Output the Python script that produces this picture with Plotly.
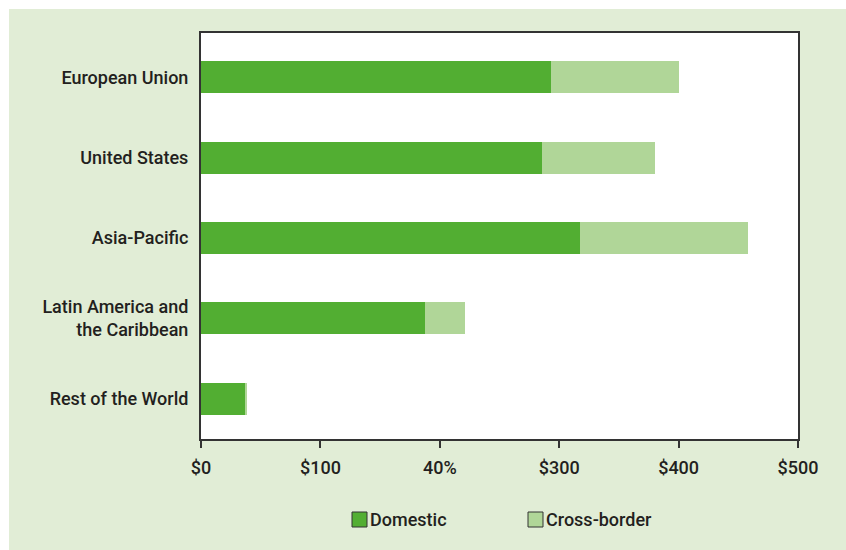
import plotly.graph_objects as go

# Regions, top to bottom
regions = [
    "European Union",
    "United States",
    "Asia-Pacific",
    "Latin America and<br>the Caribbean",
    "Rest of the World",
]
domestic = [293, 286, 317, 188, 37]
cross_border = [107, 94, 141, 33, 1]

tick_vals = [0, 100, 200, 300, 400, 500]
tick_text = ["$0", "$100", "40%", "$300", "$400", "$500"]

DOM_COLOR = "#52ae32"
XB_COLOR = "#b0d698"
BG_COLOR = "#e1edd6"
TEXT_COLOR = "#231f20"
FONT = "Roboto, Arial, sans-serif"
FSIZE = 18
FWEIGHT = 500

fig = go.Figure()
fig.add_trace(go.Bar(
    y=regions, x=domestic, orientation="h", name="Domestic",
    marker=dict(color=DOM_COLOR, line=dict(width=0)),
    width=0.4, showlegend=False,
))
fig.add_trace(go.Bar(
    y=regions, x=cross_border, orientation="h", name="Cross-border",
    marker=dict(color=XB_COLOR, line=dict(width=0)),
    width=0.4, showlegend=False,
))

W, H = 846, 550
L, R, T, B = 201, 48, 33, 111
pw, ph = W - L - R, H - T - B

def px_x(p):
    return (p - L) / pw

def px_y(p):
    return (H - B - p) / ph

# green panel behind everything, white plot area on top of it
fig.add_shape(type="rect", xref="paper", yref="paper",
              x0=px_x(9), x1=px_x(W + 2), y0=px_y(H + 2), y1=px_y(9),
              fillcolor=BG_COLOR, line=dict(width=0), layer="below")
fig.add_shape(type="rect", xref="paper", yref="paper",
              x0=0, x1=1, y0=0, y1=1,
              fillcolor="white", line=dict(width=0), layer="below")

# legend: outlined swatches with labels beside them
legend_items = [("Domestic", DOM_COLOR, 352), ("Cross-border", XB_COLOR, 528)]
for label, color, left in legend_items:
    fig.add_shape(type="rect", xref="paper", yref="paper",
                  x0=px_x(left), x1=px_x(left + 15),
                  y0=px_y(527), y1=px_y(512),
                  fillcolor=color, line=dict(color="#333333", width=1))
    fig.add_annotation(xref="paper", yref="paper",
                       x=px_x(left + 16), y=px_y(519.5),
                       xanchor="left", yanchor="middle", showarrow=False,
                       text=label,
                       font=dict(family=FONT, size=FSIZE, color=TEXT_COLOR,
                                 weight=FWEIGHT))

fig.update_layout(
    width=W, height=H,
    margin=dict(l=L, r=R, t=T, b=B),
    barmode="stack",
    paper_bgcolor="white",
    plot_bgcolor="white",
    font=dict(family=FONT, size=FSIZE, color=TEXT_COLOR, weight=FWEIGHT),
    showlegend=False,
)
fig.update_xaxes(
    range=[0, 500], tickvals=tick_vals, ticktext=tick_text,
    showgrid=False, zeroline=False,
    showline=True, mirror=True, linecolor="#333333", linewidth=2,
    ticks="outside", ticklen=7, tickwidth=1.5, tickcolor="#333333",
    ticklabelstandoff=4,
    fixedrange=True,
)
fig.update_yaxes(
    range=[4.5, -0.55], categoryorder="array", categoryarray=regions,
    showgrid=False, zeroline=False,
    showline=True, mirror=True, linecolor="#333333", linewidth=2,
    ticks="", ticklabelstandoff=7,
    fixedrange=True,
)

fig.write_html("out.html", config={"displayModeBar": False})
